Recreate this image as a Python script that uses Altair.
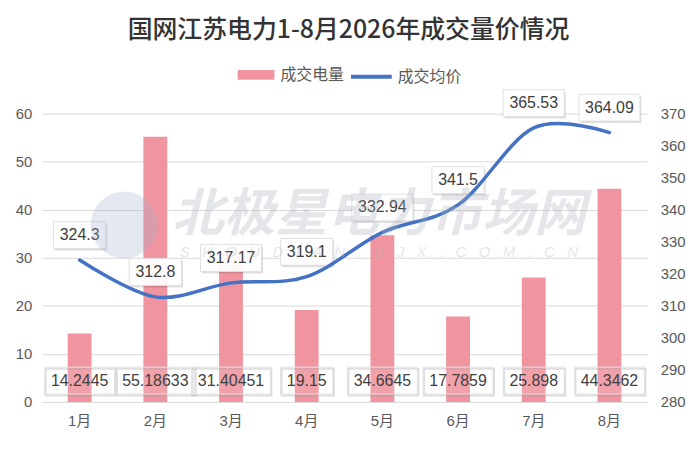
import altair as alt
import pandas as pd

# ---------------- data ----------------
months = ["1月", "2月", "3月", "4月", "5月", "6月", "7月", "8月"]
volume = [14.2445, 55.18633, 31.40451, 19.15, 34.6645, 17.7859, 25.898, 44.3462]
volume_text = ["14.2445", "55.18633", "31.40451", "19.15", "34.6645", "17.7859", "25.898", "44.3462"]
price = [324.3, 312.8, 317.17, 319.1, 332.94, 341.5, 365.53, 364.09]
price_text = ["324.3", "312.8", "317.17", "319.1", "332.94", "341.5", "365.53", "364.09"]
series_names = ["成交电量", "成交均价"]
volume_ticks = [0, 10, 20, 30, 40, 50, 60]
price_ticks = [280, 290, 300, 310, 320, 330, 340, 350, 360, 370]
title_text = "国网江苏电力1-8月2026年成交量价情况"
watermark_text = "北极星电力市场网"
watermark_sub = "SHOUDIAN.BJX.COM.CN"

df = pd.DataFrame({
    "month": months,
    "volume": volume,
    "vtext": volume_text,
    "price": price,
    "ptext": price_text,
})
df["s_vol"] = series_names[0]
df["s_price"] = series_names[1]

# ---------------- styles ----------------
W, H = 609, 290
FONT = "Liberation Sans, Noto Sans CJK SC, sans-serif"
CJK = "Noto Sans CJK SC, sans-serif"
GREY = "#595959"
BAR = "#F0959F"
LINE = "#4472C4"

x_enc = alt.X(
    "month:N", sort=months, title=None,
    scale=alt.Scale(paddingInner=0, paddingOuter=0),
    axis=alt.Axis(labelAngle=0, domain=False, ticks=False, labelPadding=12,
                  labelFontSize=15, labelColor=GREY, labelFont=FONT),
)
y_left = alt.Y(
    "volume:Q", title=None,
    scale=alt.Scale(domain=[0, 60], nice=False, zero=True),
    axis=alt.Axis(values=volume_ticks, grid=True, gridColor="#d9d9d9", domain=False,
                  ticks=False, labelPadding=10, labelFontSize=15, labelColor=GREY,
                  labelFont=FONT),
)
y_right_axis = alt.Axis(orient="right", values=price_ticks, grid=False, domain=False,
                        ticks=False, labelPadding=13, labelFontSize=15, labelColor=GREY,
                        labelFont=FONT)
y_right = alt.Y("price:Q", title=None,
                scale=alt.Scale(domain=[280, 370], nice=False, zero=False),
                axis=y_right_axis)

base = alt.Chart(df)

# ---------------- volume (bars) ----------------
bars = base.mark_bar(size=24).encode(
    x=x_enc, y=y_left,
    fill=alt.Fill("s_vol:N",
                  scale=alt.Scale(domain=[series_names[0]], range=[BAR]),
                  legend=alt.Legend(title=None, orient="none", legendX=197, legendY=-57.5,
                                    symbolType="M-1,-0.27L1,-0.27L1,0.27L-1,0.27Z",
                                    symbolSize=1369, symbolStrokeWidth=0,
                                    labelFont=CJK, labelFontSize=16, labelColor=GREY,
                                    labelOffset=6)),
)

vbase = base.transform_calculate(vw="8.9*length(datum.vtext)+8")
vbox_shadow = vbase.mark_bar(fillOpacity=0, stroke="#9a9a9a", strokeOpacity=0.35,
                             strokeWidth=2, xOffset=1, yOffset=1.5, y2Offset=1.5).encode(
    x=x_enc, y=alt.value(255), y2=alt.value(282),
    size=alt.Size("vw:Q", scale=None, legend=None),
)
vbox = vbase.mark_bar(fill="white", fillOpacity=0.12, stroke="#e2e2e2", strokeWidth=1).encode(
    x=x_enc, y=alt.value(255), y2=alt.value(282),
    size=alt.Size("vw:Q", scale=None, legend=None),
)
vtext = base.mark_text(font=FONT, fontSize=16, color="#404040", baseline="middle").encode(
    x=x_enc, y=alt.value(269), text="vtext:N",
)
left = alt.layer(bars, vbox_shadow, vbox, vtext)

# ---------------- price (line) ----------------
pbase = base.transform_calculate(pw="8.9*length(datum.ptext)+8")
pbox_shadow = pbase.mark_bar(fill="#000000", fillOpacity=0.13, xOffset=1.5,
                             yOffset=-36.5, y2Offset=-9.5).encode(
    x=x_enc, y=y_right, y2=alt.Y2("price"),
    size=alt.Size("pw:Q", scale=None, legend=None),
)
pbox = pbase.mark_bar(fill="white", fillOpacity=0.95, stroke="#e0e0e0", strokeWidth=1,
                      yOffset=-38.5, y2Offset=-11.5).encode(
    x=x_enc, y=y_right, y2=alt.Y2("price"),
    size=alt.Size("pw:Q", scale=None, legend=None),
)
line = base.mark_line(interpolate="cardinal", strokeWidth=3.5, strokeCap="round").encode(
    x=x_enc, y=y_right,
    stroke=alt.Stroke("s_price:N",
                      scale=alt.Scale(domain=[series_names[1]], range=[LINE]),
                      legend=alt.Legend(title=None, orient="none", legendX=309, legendY=-59.5,
                                        symbolType="stroke", symbolSize=1681,
                                        symbolStrokeWidth=4, labelFont=CJK,
                                        labelFontSize=16, labelColor=GREY, labelOffset=4)),
)
ptext = base.mark_text(font=FONT, fontSize=16, color="#404040", baseline="middle", dy=-25).encode(
    x=x_enc, y=y_right, text="ptext:N",
)
right = alt.layer(pbox_shadow, pbox, line, ptext)

# ---------------- title & watermark ----------------
deco_df = pd.DataFrame({
    "title": [title_text],
    "wm": [watermark_text],
    "sub": ["\u00a0\u00a0\u00a0".join(list(watermark_sub))],
})
dbase = alt.Chart(deco_df)
title = dbase.mark_text(font=CJK, fontSize=25, fontWeight=500, color="#333333",
                        baseline="middle", align="center").encode(
    x=alt.value(308.5), y=alt.value(-84), text="title:N")
wm_logo = dbase.mark_circle(size=4536, color="#9fb0cc", opacity=0.28).encode(
    x=alt.value(83), y=alt.value(112))
wm_text = dbase.mark_text(font=CJK, fontSize=52, fontWeight="bold", fontStyle="italic",
                          color="#a9b0bb", opacity=0.3, baseline="middle",
                          align="center").encode(
    x=alt.value(339), y=alt.value(102), text="wm:N")
wm_sub = dbase.mark_text(font="Liberation Sans, sans-serif", fontSize=15, fontStyle="italic",
                         color="#a9b0bb", opacity=0.3, baseline="middle",
                         align="center").encode(
    x=alt.value(339), y=alt.value(139), text="sub:N")
deco = alt.layer(title, wm_logo, wm_text, wm_sub)

chart = alt.layer(left, right, deco).resolve_scale(y="independent").properties(
    width=W, height=H,
    padding={"left": 34, "top": 105, "right": 45, "bottom": 30},
    autosize=alt.AutoSizeParams(type="none"),
    background="white",
).configure_view(stroke=None)

chart.save("out.html", embed_options={"renderer": "svg", "actions": False})
